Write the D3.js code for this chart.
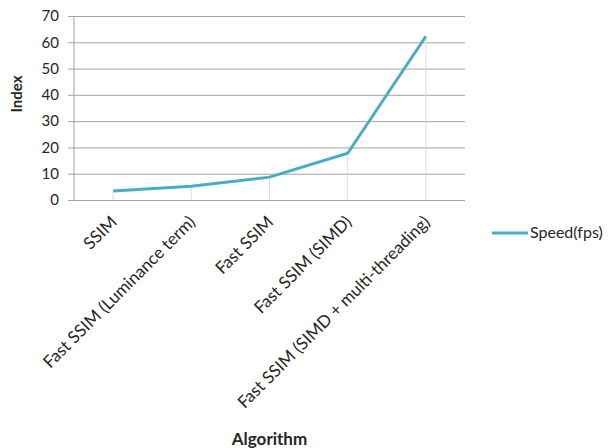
<!DOCTYPE html>
<html>
<head>
<meta charset="utf-8">
<script src="https://cdn.jsdelivr.net/npm/d3@7"></script>
<style>
  html, body { margin: 0; padding: 0; background: #fff; }
  svg { display: block; }
  text { font-family: Lato, "Open Sans", sans-serif; fill: #262626; }
</style>
</head>
<body>
<script>
// Algorithms compared and their measured throughput
const algorithms = [
  "SSIM",
  "Fast SSIM (Luminance term)",
  "Fast SSIM",
  "Fast SSIM (SIMD)",
  "Fast SSIM (SIMD + multi-threading)"
];
const speedFps = [3.4, 5.2, 8.7, 17.8, 62.3];
const seriesName = "Speed(fps)";
const yTicks = [0, 10, 20, 30, 40, 50, 60, 70];

const W = 609, H = 448;
const margin = { left: 74, right: 144, top: 16, bottom: 248 };
const plotW = W - margin.left - margin.right;
const plotH = H - margin.top - margin.bottom;

const svg = d3.select("body").append("svg")
  .attr("width", W).attr("height", H);

const g = svg.append("g")
  .attr("transform", `translate(${margin.left},${margin.top})`);

const x = d3.scaleBand().domain(algorithms).range([0, plotW]);
const y = d3.scaleLinear().domain([0, 70]).range([plotH, 0]);
const cx = d => x(d) + x.bandwidth() / 2;

// Horizontal gridlines with short outer ticks
const yAxis = d3.axisLeft(y).tickValues(yTicks)
  .tickSize(-(plotW + 6)).tickPadding(9).tickFormat(d3.format("d"));
const ya = g.append("g")
  .attr("transform", "translate(-6,0)")
  .call(yAxis);
ya.select(".domain").remove();
ya.selectAll(".tick line").attr("stroke", "#a3a3a3").attr("stroke-width", 1);
ya.selectAll(".tick text")
  .attr("x", -9).attr("fill", "#262626")
  .style("font-size", "15px").style("font-family", "Lato, sans-serif");

// Vertical axis line
g.append("line")
  .attr("x1", 0).attr("x2", 0).attr("y1", 0).attr("y2", plotH)
  .attr("stroke", "#a3a3a3");

// Drop lines from each point to the category axis
g.selectAll("line.drop").data(algorithms).join("line")
  .attr("class", "drop")
  .attr("x1", d => cx(d)).attr("x2", d => cx(d))
  .attr("y1", (d, i) => y(speedFps[i])).attr("y2", plotH)
  .attr("stroke", "#dcdcdc").attr("stroke-width", 1);

// Category labels, rotated
g.selectAll("text.cat").data(algorithms).join("text")
  .attr("class", "cat")
  .attr("transform", d => `translate(${cx(d) + 5},${plotH + 23}) rotate(-45)`)
  .attr("text-anchor", "end")
  .style("font-size", "17px")
  .text(d => d);

// Series line
const line = d3.line()
  .x((d, i) => cx(algorithms[i]))
  .y(d => y(d));
g.append("path")
  .datum(speedFps)
  .attr("d", line)
  .attr("fill", "none")
  .attr("stroke", "#4bacc6")
  .attr("stroke-width", 3)
  .attr("stroke-linejoin", "round");

// Axis titles
svg.append("text")
  .attr("x", margin.left + plotW / 2).attr("y", 445)
  .attr("text-anchor", "middle")
  .style("font-size", "17px").style("font-weight", "bold")
  .attr("fill", "#000")
  .text("Algorithm");

svg.append("text")
  .attr("transform", "translate(22,94) rotate(-90)")
  .attr("text-anchor", "middle")
  .style("font-size", "15px").style("font-weight", "bold")
  .attr("fill", "#000")
  .text("Index");

// Legend
const lg = svg.append("g").attr("transform", "translate(492,233)");
lg.append("line").attr("x1", 0).attr("x2", 36)
  .attr("stroke", "#4bacc6").attr("stroke-width", 3);
lg.append("text").attr("x", 38).attr("y", 5)
  .style("font-size", "16px")
  .text(seriesName);
</script>
</body>
</html>
